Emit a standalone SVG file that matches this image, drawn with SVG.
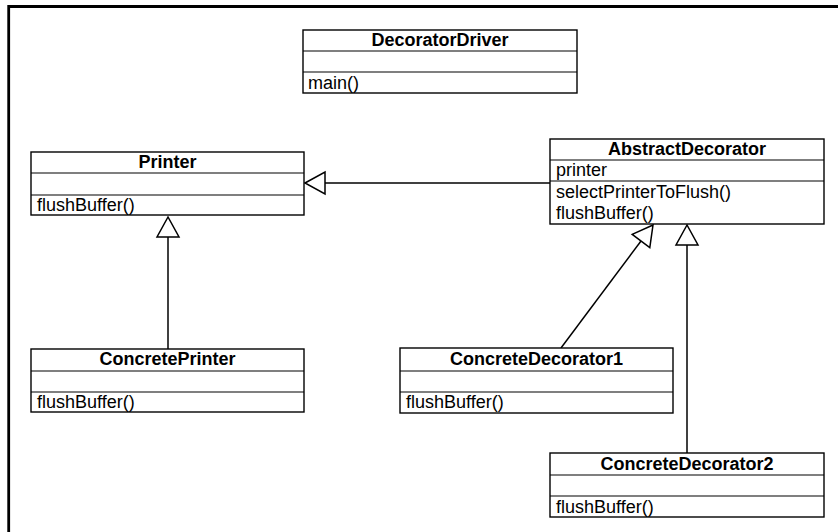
<svg xmlns="http://www.w3.org/2000/svg" width="838" height="532" viewBox="0 0 838 532">
<style>
.box{fill:#fff;stroke:#000;stroke-width:1.4}
.sep{stroke:#000;stroke-width:1.2}
.title{font-family:"Liberation Sans",Arial,sans-serif;font-size:18px;font-weight:bold;text-anchor:middle;fill:#000}
.txt{font-family:"Liberation Sans",Arial,sans-serif;font-size:18px;fill:#000}
.conn{stroke:#000;stroke-width:1.5;fill:none}
.tri{fill:#fff;stroke:#000;stroke-width:1.5}
</style>
<rect width="838" height="532" fill="#fff"/>
<path d="M838,6.5 H8.7 V532" fill="none" stroke="#000" stroke-width="2.8"/>
<g id="connectors">
<line class="conn" x1="325" y1="183" x2="550" y2="183"/>
<polygon class="tri" points="305,183 325,172 325,194"/>
<line class="conn" x1="168" y1="237" x2="168" y2="349"/>
<polygon class="tri" points="168,217 157,237 179,237"/>
<line class="conn" x1="641" y1="241" x2="561" y2="348"/>
<polygon class="tri" points="653,225 632.2,234.4 649.8,247.6"/>
<line class="conn" x1="687" y1="245" x2="687" y2="453"/>
<polygon class="tri" points="687,225 676,245 698,245"/>
</g>
<g id="DecoratorDriver">
<rect class="box" x="303" y="30" width="274" height="63"/>
<line class="sep" x1="303" y1="51" x2="577" y2="51"/>
<line class="sep" x1="303" y1="72" x2="577" y2="72"/>
<text class="title" x="440" y="46">DecoratorDriver</text>
<text class="txt" x="308" y="89">main()</text>
</g>
<g id="Printer">
<rect class="box" x="31" y="152" width="273" height="63"/>
<line class="sep" x1="31" y1="173" x2="304" y2="173"/>
<line class="sep" x1="31" y1="195" x2="304" y2="195"/>
<text class="title" x="167.5" y="168">Printer</text>
<text class="txt" x="37" y="211">flushBuffer()</text>
</g>
<g id="AbstractDecorator">
<rect class="box" x="550" y="139" width="274" height="85"/>
<line class="sep" x1="550" y1="160" x2="824" y2="160"/>
<line class="sep" x1="550" y1="181" x2="824" y2="181"/>
<text class="title" x="687" y="155">AbstractDecorator</text>
<text class="txt" x="556" y="176">printer</text>
<text class="txt" x="556" y="198">selectPrinterToFlush()</text>
<text class="txt" x="556" y="219">flushBuffer()</text>
</g>
<g id="ConcretePrinter">
<rect class="box" x="31" y="349" width="273" height="63"/>
<line class="sep" x1="31" y1="371" x2="304" y2="371"/>
<line class="sep" x1="31" y1="392" x2="304" y2="392"/>
<text class="title" x="167.5" y="365">ConcretePrinter</text>
<text class="txt" x="37" y="408">flushBuffer()</text>
</g>
<g id="ConcreteDecorator1">
<rect class="box" x="400" y="348" width="273" height="65"/>
<line class="sep" x1="400" y1="371" x2="673" y2="371"/>
<line class="sep" x1="400" y1="392" x2="673" y2="392"/>
<text class="title" x="536.5" y="365">ConcreteDecorator1</text>
<text class="txt" x="406" y="408">flushBuffer()</text>
</g>
<g id="ConcreteDecorator2">
<rect class="box" x="550" y="453" width="274" height="64"/>
<line class="sep" x1="550" y1="475" x2="824" y2="475"/>
<line class="sep" x1="550" y1="496" x2="824" y2="496"/>
<text class="title" x="687" y="470">ConcreteDecorator2</text>
<text class="txt" x="556" y="513">flushBuffer()</text>
</g>
</svg>
